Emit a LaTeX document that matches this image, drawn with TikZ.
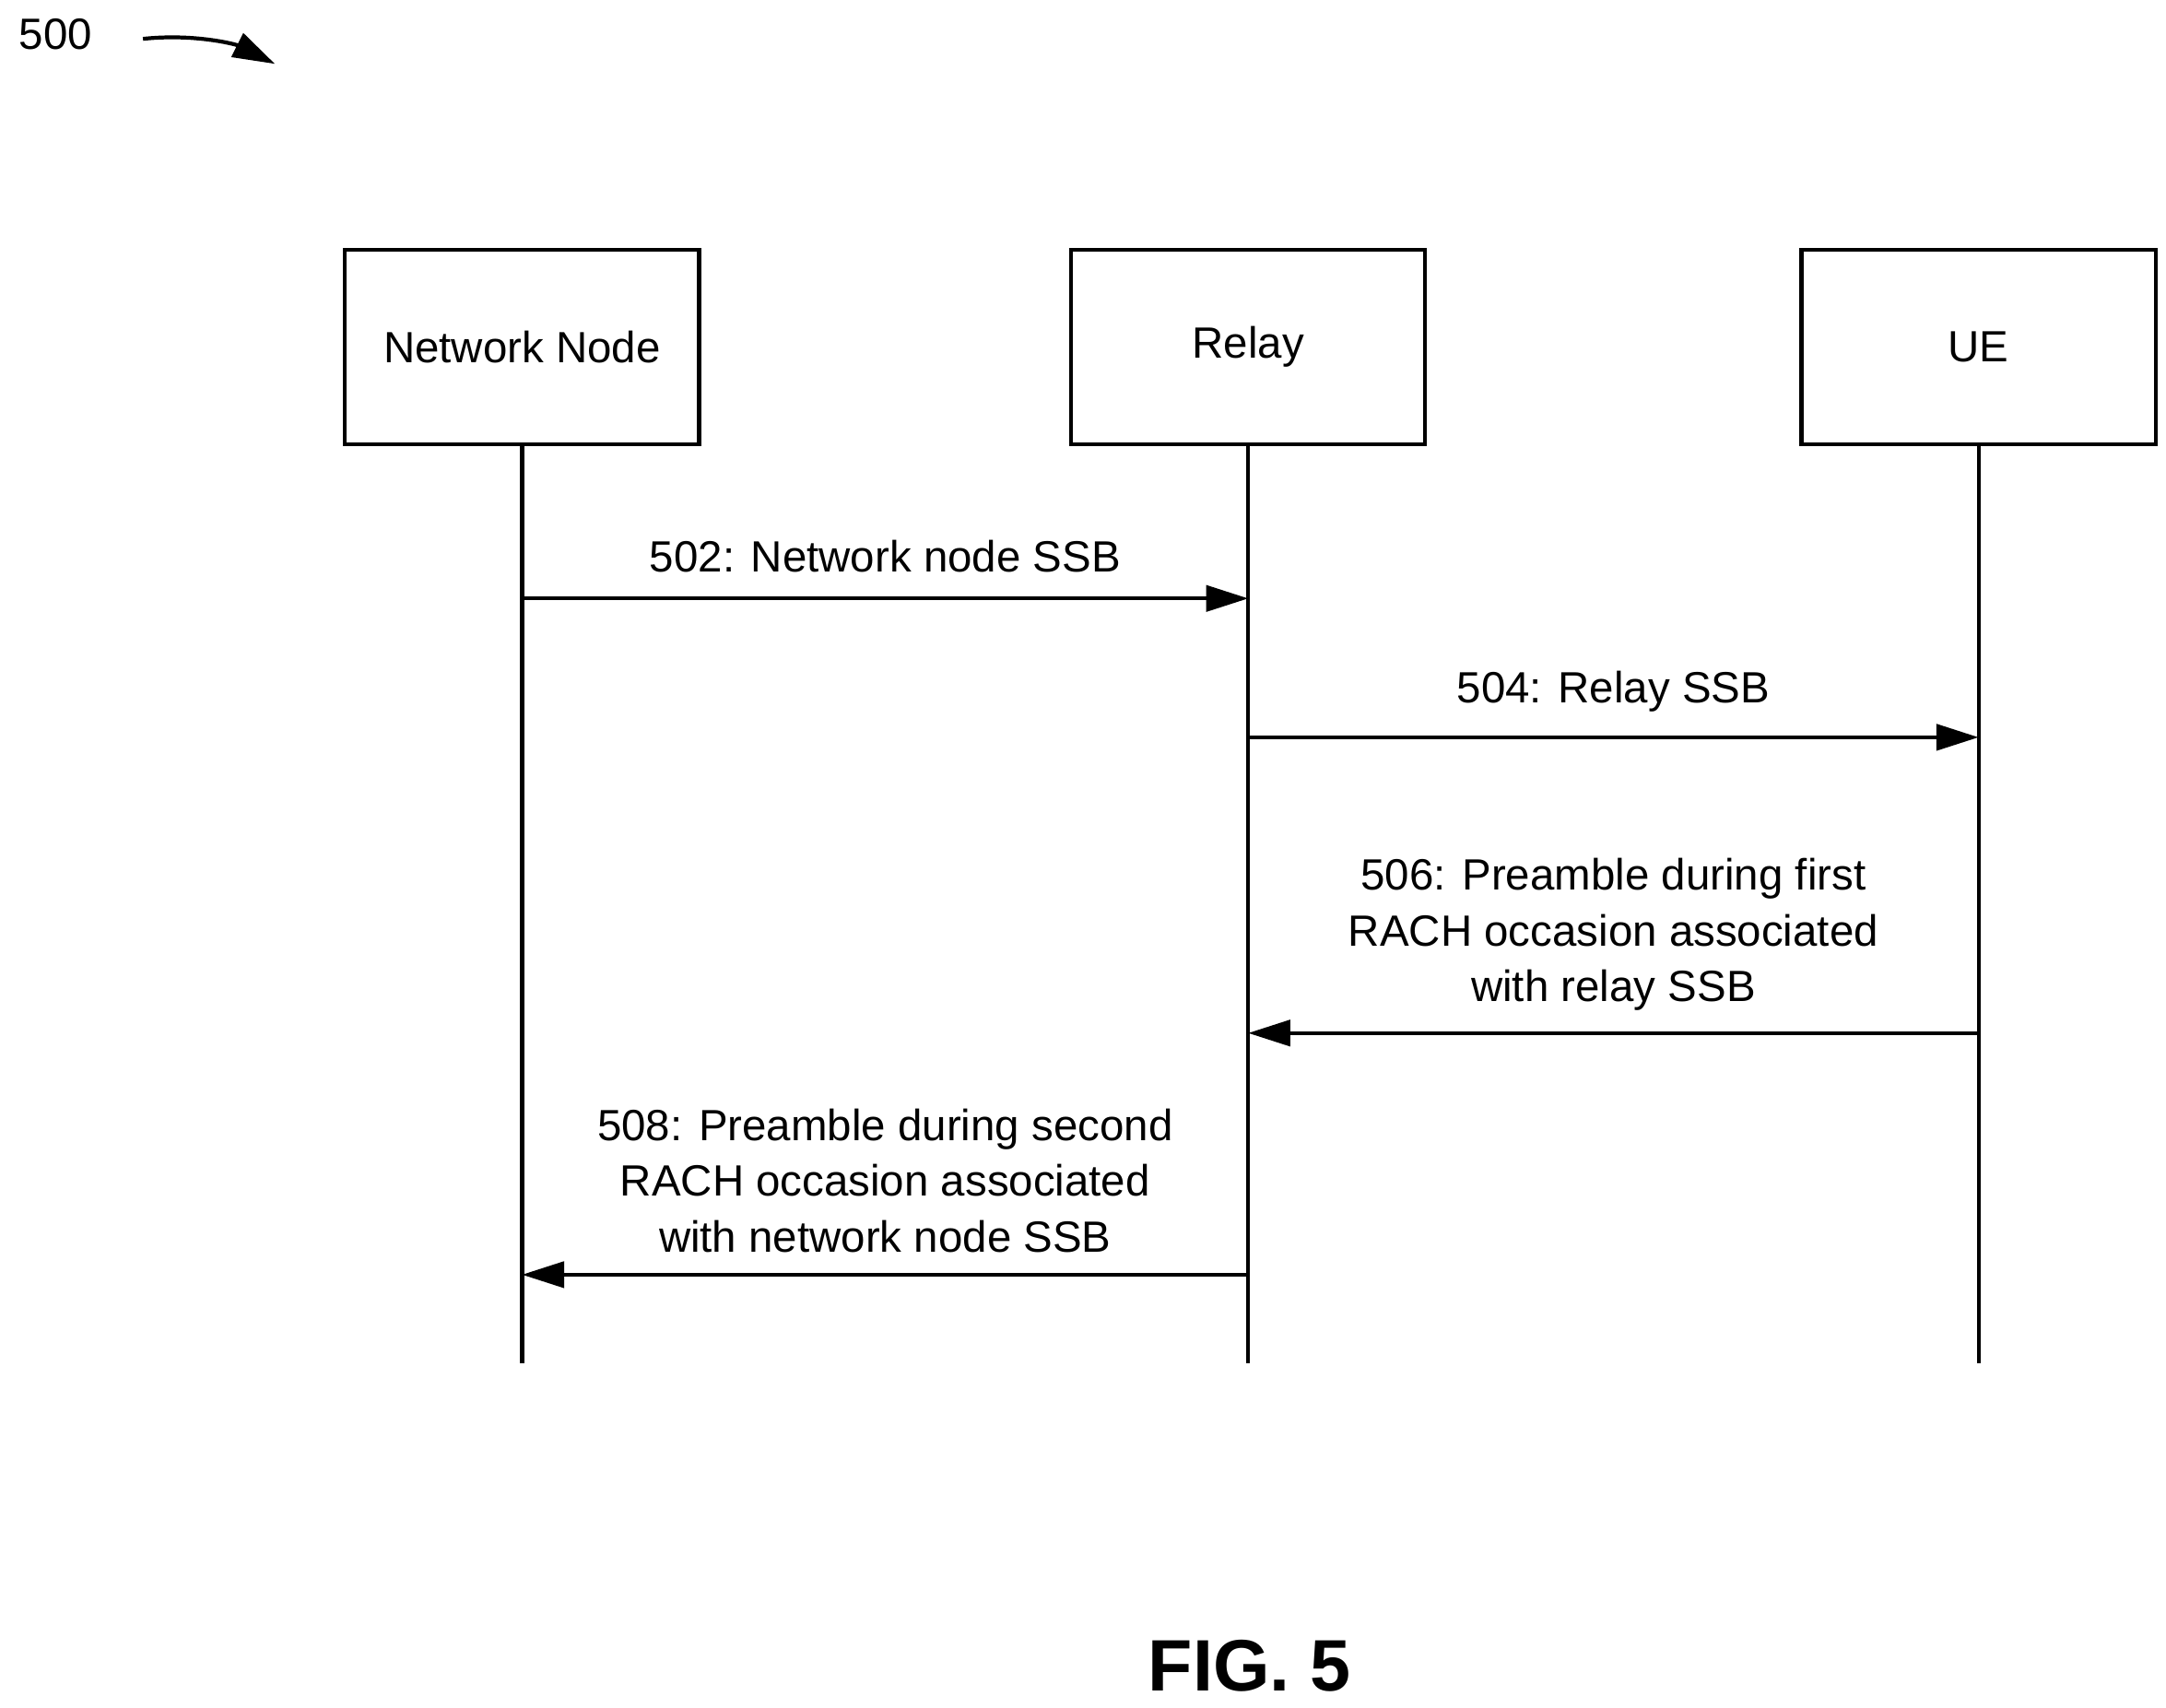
\documentclass[tikz,border=0pt]{standalone}
\usepackage{fontspec}
\setmainfont{Liberation Sans}
\usetikzlibrary{arrows.meta,positioning}
\begin{document}
\begin{tikzpicture}[
    x=0.01506cm, y=-0.01506cm,
    >={Triangle[length=13pt,width=8pt]},
    entity/.style={draw, line width=1.2pt, minimum width=255*0.01506cm,
        minimum height=140*0.01506cm, font=\fontsize{13.5}{16}\selectfont},
    life/.style={line width=1.2pt},
    msg/.style={->, line width=1.2pt},
    msglabel/.style={font=\fontsize{13.5}{17.2}\selectfont, align=center, anchor=south},
]
\useasboundingbox (0,0) rectangle (1560,1230);

% === Entities ===
\node[entity] (nn)    at (376, 250)  {Network Node};
\node[entity] (relay) at (899, 250)  {Relay};
\node[entity] (ue)    at (1425, 250) {UE};

% Lifelines
\coordinate (nnend)    at (376, 982);
\coordinate (relayend) at (899, 982);
\coordinate (ueend)    at (1425, 982);
\draw[life] (nn.south) -- (nnend);
\draw[life] (relay.south) -- (relayend);
\draw[life] (ue.south) -- (ueend);

% === Messages ===
\draw[msg] (376,431) -- (899,431)
    node[midway, msglabel, above=4pt] {502: Network node SSB};
\draw[msg] (899,531) -- (1425,531)
    node[midway, msglabel, above=4pt] {504: Relay SSB};
\draw[msg] (1425,744) -- (899,744)
    node[midway, msglabel, above=3pt] {506: Preamble during first\\RACH occasion associated\\with relay SSB};
\draw[msg] (899,918) -- (376,918)
    node[midway, msglabel, above=3pt] {508: Preamble during second\\RACH occasion associated\\with network node SSB};

% Figure label
\node[font=\fontsize{13.5}{16}\selectfont] (ref) at (40,25) {500};
\coordinate (refend) at (198,46);
\draw[->, line width=1.2pt] (103,28) .. controls (140,24) and (170,32) .. (refend);
\node[font=\bfseries\fontsize{22.5}{26}\selectfont] (fig) at (900,1200) {FIG. 5};
\end{tikzpicture}
\end{document}
